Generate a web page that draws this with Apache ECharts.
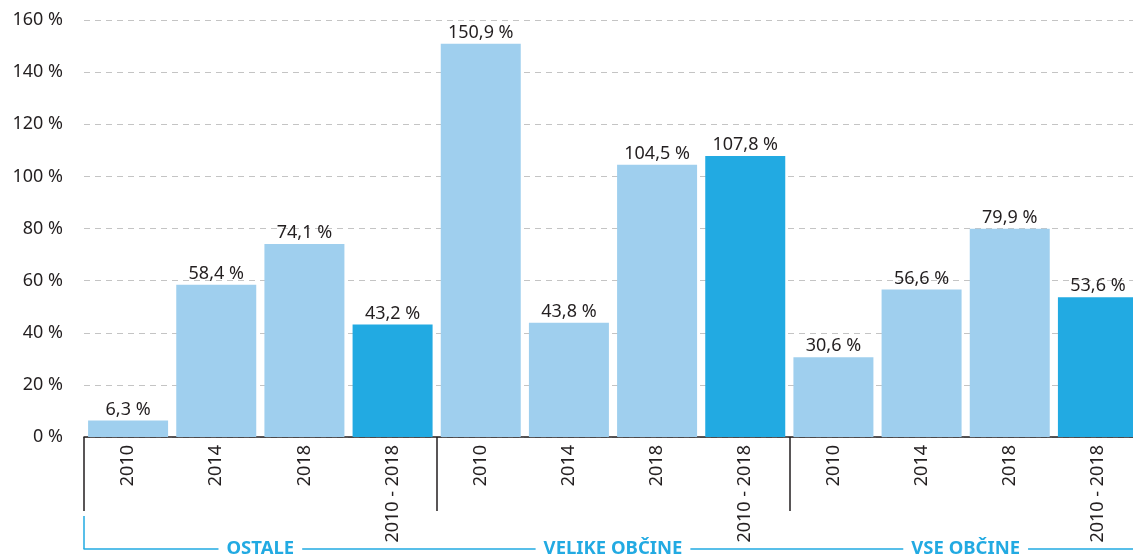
<!DOCTYPE html>
<html>
<head>
<meta charset="utf-8">
<script src="https://cdn.jsdelivr.net/npm/echarts@6/dist/echarts.min.js"></script>
<style>
  html, body { margin: 0; padding: 0; background: #fff; overflow: hidden; }
  /* a little wider than the window: the last group is cut by the right edge, as in the original */
  #chart { width: 1142px; height: 559px; }
</style>
</head>
<body>
<div id="chart"></div>
<script>
// categories (years) and groups
const years = ['2010', '2014', '2018', '2010 - 2018',
               '2010', '2014', '2018', '2010 - 2018',
               '2010', '2014', '2018', '2010 - 2018']
const groups = ['OSTALE', 'VELIKE OBČINE', 'VSE OBČINE']
// values in %
const values = [6.3, 58.4, 74.1, 43.2,
                150.9, 43.8, 104.5, 107.8,
                30.6, 56.6, 79.9, 53.6]
const yTicks = { min: 0, max: 160, interval: 20 }

const lightBlue = '#9fcfee'
const darkBlue = '#22aae2'
const textColor = '#231f20'
const font = 'Noto Sans'

let chart = echarts.init(document.getElementById('chart'))

let option = {
  animation: false,
  grid: {
    left: 84,
    right: 0,
    top: 20,
    bottom: 122,
    containLabel: false
  },
  xAxis: [
    {
      type: 'category',
      data: years,
      axisLine: { lineStyle: { color: textColor, width: 1.5 } },
      axisTick: {
        show: true,
        length: 74,
        interval: function (index) { return index % 4 === 0 },
        lineStyle: { color: textColor, width: 1.5 }
      },
      axisLabel: {
        rotate: 90,
        interval: 0,
        margin: 8,
        fontSize: 18,
        fontFamily: font,
        color: textColor
      }
    },
    {
      type: 'category',
      data: groups,
      position: 'bottom',
      offset: 112,
      axisLine: { lineStyle: { color: darkBlue, width: 1.5 } },
      axisTick: {
        show: true,
        inside: true,
        length: 33,
        interval: function (index) { return index === 0 },
        lineStyle: { color: darkBlue, width: 1.5 }
      },
      axisLabel: {
        margin: 0,
        verticalAlign: 'middle',
        fontSize: 18.5,
        fontWeight: 'bold',
        fontFamily: font,
        color: darkBlue,
        backgroundColor: '#fff',
        padding: [0, 8]
      }
    }
  ],
  yAxis: {
    type: 'value',
    min: yTicks.min,
    max: yTicks.max,
    interval: yTicks.interval,
    axisLine: { show: false },
    axisTick: { show: false },
    splitLine: { lineStyle: { color: '#c4c4c4', type: [6, 5], width: 1 } },
    axisLabel: {
      margin: 21,
      fontSize: 18,
      fontFamily: font,
      color: textColor,
      formatter: '{value} %'
    }
  },
  series: [{
    type: 'bar',
    xAxisIndex: 0,
    barWidth: 80,
    data: values.map(function (v, i) {
      return { value: v, itemStyle: { color: i % 4 === 3 ? darkBlue : lightBlue } }
    }),
    label: {
      show: true,
      position: 'top',
      distance: 2,
      fontSize: 18,
      fontFamily: font,
      color: textColor,
      formatter: function (p) { return String(p.value).replace('.', ',') + ' %' }
    }
  }]
}

chart.setOption(option)
</script>
</body>
</html>
